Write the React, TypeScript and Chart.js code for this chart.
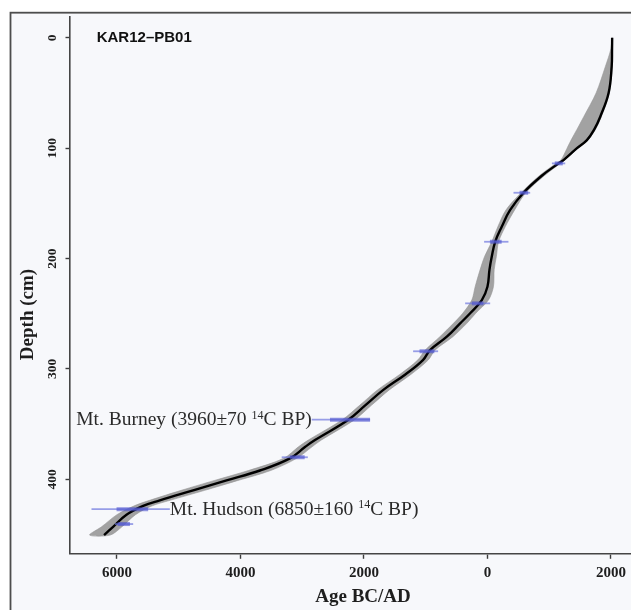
import { useEffect, useRef } from 'react';
import { Chart, registerables } from 'chart.js';

Chart.register(...registerables);

// ---- data (age in years BC(-)/AD(+), depth in cm) ----
const xTickValues = [-6000, -4000, -2000, 0, 2000];
const yTickValues = [0, 100, 200, 300, 400];

const medianDepth = [0, 10, 26, 50, 71.5, 83, 92.7, 100, 110.8, 113.8, 125, 140.4, 156, 171, 184.8, 198, 210, 225.5, 237.6, 249.6, 258.7, 270.8, 283, 292, 305, 319, 333, 346, 364.4, 370.5, 381, 392, 401, 410, 419, 424, 432, 443, 450.5];
const medianAge = [2020, 2018, 2012, 1962, 1827, 1730, 1611, 1450, 1232, 1151, 880, 584, 368, 233, 125, 71, 33, 0, -91, -280, -442, -658, -930, -1045, -1330, -1686, -1980, -2253, -2793, -2950, -3199, -3685, -4225, -4766, -5306, -5576, -5846, -6063, -6209];

const bandOld = [2016, 2000, 1910, 1760, 1560, 1450, 1355, 1290, 1190, 1110, 840, 545, 300, 170, 70, -45, -118, -199, -253, -400, -551, -770, -1010, -1130, -1420, -1780, -2070, -2350, -2900, -3060, -3300, -3870, -4420, -4960, -5470, -5720, -6000, -6250, -6443];
const bandYoung = [2024, 2025, 2022, 1975, 1845, 1750, 1630, 1470, 1250, 1180, 920, 620, 440, 290, 180, 145, 109, 97, 16, -190, -334, -560, -850, -960, -1240, -1590, -1880, -2150, -2690, -2840, -3090, -3510, -4040, -4580, -5140, -5430, -5700, -5920, -6110];

const dateDepth = [113.8, 140.4, 184.8, 240.6, 284, 346, 380, 427, 440.5];
const dateLo = [1044, 422, -54, -361, -1204, -2846, -3332, -6413, -6034];
const dateHi = [1260, 692, 340, 44, -799, -1901, -2909, -5144, -5738];
const coreLo = [1090, 520, 40, -253, -1100, -2550, -3199, -6007, -5990];
const coreHi = [1220, 660, 230, -65, -860, -1901, -2960, -5495, -5790];

const coreName = 'KAR12–PB01';
const xTitle = 'Age BC/AD';
const yTitle = 'Depth (cm)';
// tephra labels: which date they belong to, and text parts (pre, superscript, post)
const tephraDateIndex = [5, 7];
const tephraPre = ['Mt. Burney (3960±70 ', 'Mt. Hudson (6850±160 '];
const tephraSup = ['14', '14'];
const tephraPost = ['C BP)', 'C BP)'];
const tephraSide = ['left', 'right'];

const X_MIN = -6769;
const X_MAX = 2738;
const Y_MIN = -18.8;
const Y_MAX = 467;

const W = 700;
const H = 610;
const SERIF = "'Liberation Serif', 'Times New Roman', serif";
const SANS = "'Liberation Sans', Arial, sans-serif";

export default function App() {
  const ref = useRef<HTMLCanvasElement>(null);

  useEffect(() => {
    const canvas = ref.current;
    if (!canvas) return;

    const medianData = medianDepth.map((d, i) => ({ x: medianAge[i], y: d }));
    const toPoints = (arr: number[]) => arr.map((a, i) => ({ x: a, y: medianDepth[i] }));
    const bandData = [...toPoints(bandOld), ...toPoints(bandYoung).reverse()];

    const decor = {
      id: 'decor',
      beforeDraw(chart: any) {
        const ctx = chart.ctx as CanvasRenderingContext2D;
        ctx.save();
        ctx.fillStyle = '#ffffff';
        ctx.fillRect(0, 0, W, H);
        ctx.fillStyle = '#f7f8fb';
        ctx.fillRect(10.5, 12.7, W, H);
        ctx.strokeStyle = '#4d4d4d';
        ctx.lineWidth = 1.8;
        ctx.strokeRect(10.5, 12.7, W + 40, H + 40);
        ctx.restore();
      },
      afterDatasetsDraw(chart: any) {
        const ctx = chart.ctx as CanvasRenderingContext2D;
        const xs = chart.scales.x;
        const ys = chart.scales.y;
        ctx.save();
        ctx.lineCap = 'butt';
        for (let i = 0; i < dateDepth.length; i++) {
          const y = ys.getPixelForValue(dateDepth[i]);
          ctx.strokeStyle = 'rgba(110,118,222,0.7)';
          ctx.lineWidth = 1.8;
          ctx.beginPath();
          ctx.moveTo(xs.getPixelForValue(dateLo[i]), y);
          ctx.lineTo(xs.getPixelForValue(dateHi[i]), y);
          ctx.stroke();
          ctx.strokeStyle = 'rgba(72,78,205,0.6)';
          ctx.lineWidth = 4;
          ctx.beginPath();
          ctx.moveTo(xs.getPixelForValue(coreLo[i]), y);
          ctx.lineTo(xs.getPixelForValue(coreHi[i]), y);
          ctx.stroke();
        }
        ctx.restore();
      },
      afterDraw(chart: any) {
        const ctx = chart.ctx as CanvasRenderingContext2D;
        const xs = chart.scales.x;
        const ys = chart.scales.y;
        const area = chart.chartArea;
        ctx.save();
        ctx.fillStyle = '#1e1e1e';

        // x tick labels
        ctx.font = `bold 15px ${SERIF}`;
        ctx.textAlign = 'center';
        ctx.textBaseline = 'alphabetic';
        for (const v of xTickValues) {
          ctx.fillText(String(Math.abs(v)), xs.getPixelForValue(v), 577);
        }
        // y tick labels (rotated)
        ctx.font = `bold 13.5px ${SERIF}`;
        for (const v of yTickValues) {
          ctx.save();
          ctx.translate(55.5, ys.getPixelForValue(v));
          ctx.rotate(-Math.PI / 2);
          ctx.textAlign = 'center';
          ctx.textBaseline = 'alphabetic';
          ctx.fillText(String(v), 0, 0);
          ctx.restore();
        }
        // axis titles
        ctx.font = `bold 19px ${SERIF}`;
        ctx.textAlign = 'center';
        ctx.fillText(xTitle, (area.left + area.right) / 2, 602);
        ctx.save();
        ctx.translate(32.5, 314.5);
        ctx.rotate(-Math.PI / 2);
        ctx.fillText(yTitle, 0, 0);
        ctx.restore();

        // core name
        ctx.font = `bold 15px ${SANS}`;
        ctx.textAlign = 'left';
        ctx.fillStyle = '#111';
        ctx.fillText(coreName, 96.7, 41.7);

        // tephra labels
        ctx.fillStyle = '#2a2a2a';
        for (let k = 0; k < tephraDateIndex.length; k++) {
          const i = tephraDateIndex[k];
          const baseY = ys.getPixelForValue(dateDepth[i]) + 5.5;
          const big = `19.5px ${SERIF}`;
          const small = `12px ${SERIF}`;
          ctx.font = big;
          const w1 = ctx.measureText(tephraPre[k]).width;
          const w3 = ctx.measureText(tephraPost[k]).width;
          ctx.font = small;
          const w2 = ctx.measureText(tephraSup[k]).width;
          const total = w1 + w2 + w3;
          const x0 =
            tephraSide[k] === 'left'
              ? xs.getPixelForValue(dateLo[i]) - total
              : xs.getPixelForValue(dateHi[i]);
          ctx.textAlign = 'left';
          ctx.font = big;
          ctx.fillText(tephraPre[k], x0, baseY);
          ctx.font = small;
          ctx.fillText(tephraSup[k], x0 + w1, baseY - 6.5);
          ctx.font = big;
          ctx.fillText(tephraPost[k], x0 + w1 + w2, baseY);
        }
        ctx.restore();
      },
    };

    const gridCommon = {
      display: true,
      drawOnChartArea: false,
      drawTicks: true,
      tickColor: '#3c3c3c',
      tickWidth: 1.4,
    };

    const chart = new Chart(canvas, {
      type: 'scatter',
      data: {
        datasets: [
          {
            data: medianData,
            order: 1,
            showLine: true,
            fill: false,
            borderColor: '#000000',
            borderWidth: 2.4,
            pointRadius: 0,
            tension: 0.4,
          },
          {
            data: bandData,
            order: 2,
            showLine: true,
            fill: 'shape',
            backgroundColor: '#a2a2a2',
            borderColor: 'rgba(150,150,150,0.6)',
            borderWidth: 1,
            pointRadius: 0,
            tension: 0.3,
          },
        ],
      },
      options: {
        responsive: false,
        animation: false,
        layout: { padding: { left: 0, right: W - 656.5, top: 17, bottom: 0 } },
        plugins: {
          legend: { display: false },
          tooltip: { enabled: false },
          title: { display: false },
        },
        events: [],
        scales: {
          x: {
            type: 'linear',
            min: X_MIN,
            max: X_MAX,
            afterBuildTicks: (s: any) => {
              s.ticks = xTickValues.map((v) => ({ value: v }));
            },
            afterFit: (s: any) => {
              s.height = H - 553.3;
            },
            ticks: { display: false },
            grid: { ...gridCommon, tickLength: 5.5 },
            border: { display: true, color: '#454545', width: 1.6 },
          },
          y: {
            type: 'linear',
            reverse: true,
            min: Y_MIN,
            max: Y_MAX,
            afterBuildTicks: (s: any) => {
              s.ticks = yTickValues.map((v) => ({ value: v }));
            },
            afterFit: (s: any) => {
              s.width = 69.5;
            },
            ticks: { display: false },
            grid: { ...gridCommon, tickLength: 4 },
            border: { display: true, color: '#454545', width: 1.6 },
          },
        },
      },
      plugins: [decor],
    } as any);

    return () => {
      chart.destroy();
    };
  }, []);

  return (
    <div
      style={{
        position: 'fixed',
        left: 0,
        top: 0,
        width: 631,
        height: 610,
        overflow: 'hidden',
        background: '#ffffff',
      }}
    >
      <canvas ref={ref} width={W} height={H} style={{ display: 'block', width: W, height: H }} />
    </div>
  );
}
